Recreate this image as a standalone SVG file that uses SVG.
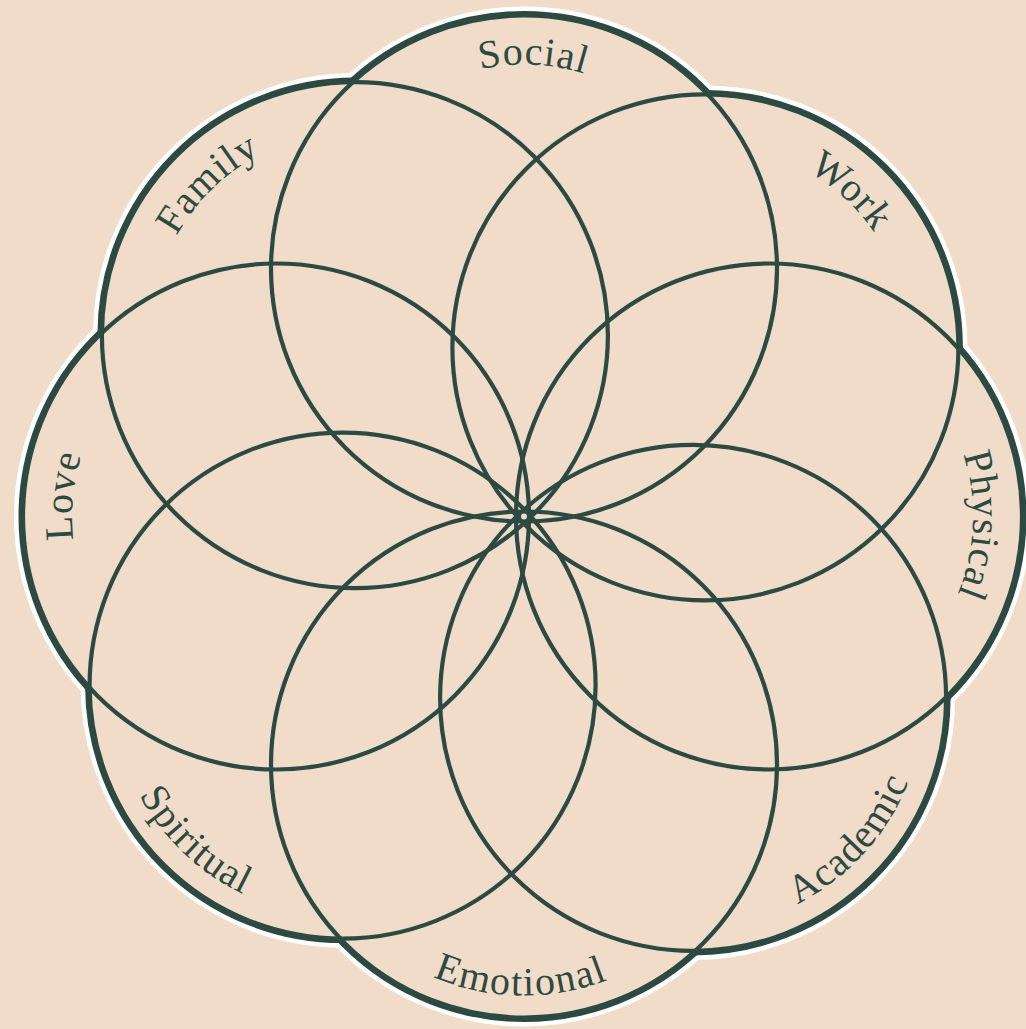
<svg xmlns="http://www.w3.org/2000/svg" width="1026" height="1029" viewBox="0 0 1026 1029">
<style>
.halo{fill:none;stroke:#ffffff;stroke-width:18}
.rim{fill:none;stroke:#2C4A42;stroke-width:9}
.cover{fill:#F0DCC8;stroke:none}
.line{fill:none;stroke:#2C4A42;stroke-width:4.2}
.label{font-family:"Liberation Serif","DejaVu Serif",serif;font-size:40px;fill:#2C4A42;letter-spacing:1px}
</style>
<defs>
<circle id="c-social" cx="524" cy="268.5" r="253"/>
<circle id="c-work" cx="705.4" cy="347.4" r="253"/>
<circle id="c-physical" cx="769" cy="516.5" r="253"/>
<circle id="c-academic" cx="693.1" cy="697.9" r="253"/>
<circle id="c-emotional" cx="524" cy="764.5" r="253"/>
<circle id="c-spiritual" cx="342.6" cy="685.6" r="253"/>
<circle id="c-love" cx="276" cy="516.5" r="253"/>
<circle id="c-family" cx="354.9" cy="335.1" r="253"/>
<path id="p-social" d="M324.84,224.35 A204,204 0 0 1 726.25,241.87"/>
<path id="p-work" d="M582.63,184.48 A204,204 0 0 1 876.49,458.51"/>
<path id="p-physical" d="M812.81,317.26 A204,204 0 0 1 795.98,718.71"/>
<path id="p-love" d="M221.48,713.08 A204,204 0 0 1 259.99,313.13"/>
<path id="p-family" d="M186.18,449.77 A204,204 0 0 1 474.23,169.64"/>
<path id="p-academic" d="M570.35,893.59 A231,231 0 0 0 875.38,556.0"/>
<path id="p-emotional" d="M295.97,801.43 A231,231 0 0 0 750.91,807.78"/>
<path id="p-spiritual" d="M149.97,558.1 A231,231 0 0 0 480.0,871.29"/>
</defs>
<rect width="1026" height="1029" fill="#F0DCC8"/>
<g id="outline">
<g class="halo">
<use href="#c-social"/><use href="#c-work"/><use href="#c-physical"/><use href="#c-academic"/>
<use href="#c-emotional"/><use href="#c-spiritual"/><use href="#c-love"/><use href="#c-family"/>
</g>
<g class="rim">
<use href="#c-social"/><use href="#c-work"/><use href="#c-physical"/><use href="#c-academic"/>
<use href="#c-emotional"/><use href="#c-spiritual"/><use href="#c-love"/><use href="#c-family"/>
</g>
<g class="cover">
<use href="#c-social"/><use href="#c-work"/><use href="#c-physical"/><use href="#c-academic"/>
<use href="#c-emotional"/><use href="#c-spiritual"/><use href="#c-love"/><use href="#c-family"/>
</g>
</g>
<g id="node-social"><use href="#c-social" class="line"/><text class="label"><textPath href="#p-social" startOffset="50%" text-anchor="middle">Social</textPath></text></g>
<g id="node-work"><use href="#c-work" class="line"/><text class="label"><textPath href="#p-work" startOffset="50%" text-anchor="middle">Work</textPath></text></g>
<g id="node-physical"><use href="#c-physical" class="line"/><text class="label"><textPath href="#p-physical" startOffset="50%" text-anchor="middle">Physical</textPath></text></g>
<g id="node-academic"><use href="#c-academic" class="line"/><text class="label"><textPath href="#p-academic" startOffset="50%" text-anchor="middle">Academic</textPath></text></g>
<g id="node-emotional"><use href="#c-emotional" class="line"/><text class="label" style="letter-spacing:1.6px"><textPath href="#p-emotional" startOffset="50%" text-anchor="middle">Emotional</textPath></text></g>
<g id="node-spiritual"><use href="#c-spiritual" class="line"/><text class="label"><textPath href="#p-spiritual" startOffset="50%" text-anchor="middle">Spiritual</textPath></text></g>
<g id="node-love"><use href="#c-love" class="line"/><text class="label"><textPath href="#p-love" startOffset="50%" text-anchor="middle">Love</textPath></text></g>
<g id="node-family"><use href="#c-family" class="line"/><text class="label"><textPath href="#p-family" startOffset="50%" text-anchor="middle">Family</textPath></text></g>
<g id="center"><circle cx="524" cy="516.5" r="5" fill="#F0DCC8" stroke="#2C4A42" stroke-width="4"/></g>
</svg>
